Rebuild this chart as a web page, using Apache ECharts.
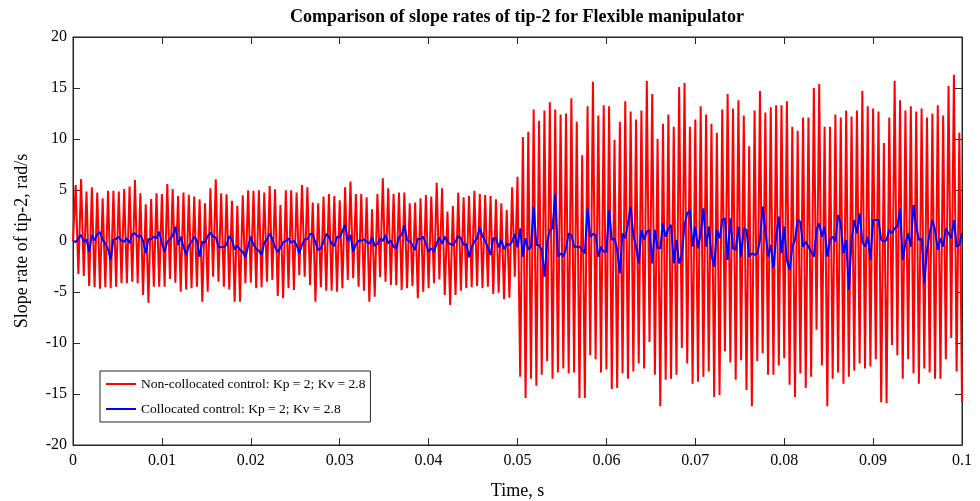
<!DOCTYPE html>
<html>
<head>
<meta charset="utf-8">
<script src="https://cdn.jsdelivr.net/npm/echarts@6/dist/echarts.min.js"></script>
<style>
html,body{margin:0;padding:0;background:#fff;}
#chart{width:980px;height:501px;}
</style>
</head>
<body>
<div id="chart"></div>
<script>
// Time span of the recorded signal (s) and tick values
const tStart = 0;
const tEnd = 0.1;
const xTicks = [0, 0.01, 0.02, 0.03, 0.04, 0.05, 0.06, 0.07, 0.08, 0.09, 0.1];
const yTicks = [-20, -15, -10, -5, 0, 5, 10, 15, 20];

// Non-collocated control, samples 0 .. ~0.05 s (peaks/troughs)
const redFirstHalf = [
  0, 5.49, -3.24, 6.08, -3.43, 4.84, -4.41, 5.26, -4.54, 4.74, -4.67, 4.18, -4.54, 4.93, -4.64, 4.93, -4.48, 4.84, -4.15, 5.1, -4.15, 5.33, -3.99, 5.98, -4.15, 4.67, -5.29, 3.59, -6.04, 4.12, -4.48, 4.67,
  -4.48, 4.61, -4.48, 5.59, -3.73, 5.1, -4.08, 4.41, -4.97, 4.74, -4.74, 4.54, -4.64, 4.35, -4.48, 4.08, -5.95, 3.69, -4.97, 5.16, -3.5, 6.05, -3.99, 4.67, -4.48, 4.57, -4.74, 3.95, -5.95, 3.46, -5.95, 4.48, -4.15,
  4.97, -4.08, 4.93, -4.64, 4.97, -4.54, 4.74, -3.99, 5.39, -3.82, 5.07, -5.39, 3.53, -5.62, 4.97, -4.64, 4.97, -4.8, 4.74, -3.33, 5.49, -3.5, 5.26, -4.31, 3.76, -5.95, 3.69, -4.54, 4.35, -4.87, 4.61, -4.87, 4.41,
  -4.97, 3.98, -4.64, 5.26, -3.82, 5.82, -3.66, 4.61, -4.48, 4.61, -4.87, 4.28, -5.95, 3.1, -5.46, 4.61, -3.56, 6.14, -3.99, 5.16, -4.31, 4.61, -4.31, 4.74, -4.8, 4.74, -4.64, 3.69, -4.41, 3.76, -5.62, 4.18, -4.97,
  4.51, -4.64, 4.35, -4.15, 5.72, -3.76, 5.16, -5.29, 2.88, -6.27, 3.43, -5.29, 4.74, -4.87, 4.28, -4.64, 4.41, -4.54, 4.93, -4.41, 4.61, -4.64, 4.51, -4.48, 4.41, -5.2, 4.08, -5.07, 3.69, -5.72, 3.04, -5.56, 5.26, -3.5
];
// Non-collocated control, samples ~0.05 .. 0.1 s
const redSecondHalf = [
  6.3, -13.3, 10.2, -15.4, 10.7, -13.5, 12.9, -14.2, 11.8, -13.1, 12.8, -11.8, 13.6, -13.5, 12.9, -12.9, 12.4, -12.5, 12.5, -13.0, 14.0, -12.9, 11.7, -15.4, 8.4, -15.4, 13.2, -11.2, 15.6, -11.6, 12.3, -12.9,
  13.3, -12.6, 13.2, -14.5, 9.9, -14.4, 11.7, -13.0, 13.7, -13.5, 12.7, -12.8, 11.9, -12.0, 12.8, -12.5, 15.7, -9.9, 14.4, -13.1, 10.0, -16.2, 11.5, -13.6, 12.4, -13.5, 11.2, -13.1, 15.1, -10.5, 15.5, -12.0, 11.2,
  -14.0, 11.9, -13.8, 13.2, -13.3, 12.4, -12.8, 11.5, -15.3, 10.6, -15.1, 12.9, -10.8, 14.4, -11.9, 13.0, -13.6, 13.8, -11.7, 12.3, -14.6, 9.3, -16.2, 12.8, -11.8, 14.7, -11.0, 12.6, -13.1, 13.1, -13.1, 13.3, -12.2,
  13.3, -11.5, 13.7, -14.1, 11.2, -15.3, 10.8, -13.0, 12.1, -14.4, 12.1, -13.3, 15.0, -8.7, 15.4, -12.2, 11.2, -16.2, 11.2, -13.5, 12.4, -12.9, 12.1, -14.0, 12.8, -13.3, 12.2, -12.7, 12.8, -12.0, 14.7, -12.5, 13.2,
  -12.3, 13.0, -11.6, 12.7, -15.8, 9.6, -15.9, 12.1, -10.2, 15.7, -11.2, 13.8, -13.5, 12.8, -11.6, 13.2, -13.0, 12.7, -14.0, 13.0, -12.5, 12.1, -12.9, 12.5, -13.5, 13.3, -13.5, 12.3, -11.6, 15.2, -9.5, 16.3, -12.8, 10.6, -15.8
];
// Collocated control, samples 0 .. ~0.05 s
const blueFirstHalf = [
  0, -0.1, 0.26, 0.59, -0.07, 0.16, -1.05, 0.59, 0.03, 0.65, 0.88, 0.1, -0.23, -0.82, -1.8, 0.16, 0.2, 0.42, 0.03, -0.07, 0.26, -0.23, 0.69, 0.75, 0.42, 0.59, 0.03, -1.21, 0.2, 0.16, 0.42, 0.26,
  0.92, -0.23, -1.05, -0.07, 0.16, 0.52, 1.41, -0.39, 0.42, -0.56, -1.37, -0.49, -0.07, 0.42, 0.03, -1.54, -0.07, -0.16, 0.49, 0.82, 0.42, 0.36, -0.56, -0.62, -0.56, -0.39, 0.49, 0.1, -0.82, -0.42, -0.88, -1.05, -1.6,
  -0.49, 0.42, -0.39, -0.78, -0.95, -1.37, -0.16, 0.16, 0.75, 0.2, -0.59, -1.08, -0.65, -0.16, 0.03, 0.23, -0.16, 0.03, -0.39, -1.21, -0.36, 0.16, 0.16, 0.69, 0.69, -0.16, -0.88, -0.72, -0.07, 0.69, 0.42, -0.29, -0.49,
  0.42, 0.33, 0.98, 1.57, 0, 0.59, -1.05, -0.36, 0.03, 0.03, 0.16, -0.07, -0.29, 0.36, -0.49, -0.29, 0.26, 0, 0.59, -0.23, 0.03, -0.56, -0.72, 0.36, 0.59, 1.57, 0.1, -0.07, -0.39, -0.88, 0.26, 0.16, 0.42,
  -0.29, -1.05, -0.72, -1.05, -0.23, 0.36, -0.29, 0.42, -0.07, -0.29, -0.39, -0.07, 0.49, 0.26, -0.39, -0.29, -1.6, -0.56, -0.07, 0.26, 1.34, 0.49, 0.03, -0.72, -1.37, 0.26, 0.26, -0.62, 0.1, -0.82, -0.29, -0.39, -0.07, 0.69
];
// Collocated control, samples ~0.05 .. 0.1 s
const blueSecondHalf = [
  -0.62, 1.24, -1.54, 0.26, -0.82, -0.62, 3.4, -0.39, -0.39, -0.88, -3.5, -0.16, 1.08, 1.24, 4.67, -1.54, -1.21, -1.54, -0.72, 0.75, 0.59, -0.56, -0.56, -0.56, -0.88, -1.21, 3.2, 0.42, 0.69, 0.59, -1.54, -0.56,
  -1.05, -1.05, 3.04, 0.1, 0.26, -0.88, -3.17, 0.75, 0.26, 1.73, 3.37, 0.59, -0.56, -2.19, 1.08, 0.1, 0.92, 1.08, -2.19, 1.08, -0.72, -0.72, 1.73, 0.42, 1.24, 1.57, -2.19, 0.1, -2.19, -1.37, 1.57, 2.71, 3.04,
  -0.56, 1.41, -0.72, 0.75, 3.2, -0.56, 1.41, -1.37, -2.52, 1.08, 0.26, 2.06, 2.22, -1.86, 2.22, -0.72, -0.88, 1.41, -1.54, 1.24, 1.08, -1.54, -1.21, -1.37, -1.21, 0.1, 3.37, 1.08, -1.54, -0.39, -2.68, 0.42, 2.39,
  -1.21, 1.41, -1.86, -2.84, -0.56, 0.1, 2.06, 1.89, -0.56, -0.07, -0.56, -1.05, -1.54, 1.08, 1.73, 0.42, 1.41, -1.54, 0.1, 0.42, -0.07, 2.55, 1.73, -1.21, 0.1, -4.8, 0.1, 2.06, 0.75, 2.71, -0.07, -0.56, 0.42,
  -1.86, 2.06, 2.06, 2.06, 0.1, -0.07, 0.1, 1.08, 0.75, 1.24, 1.41, 3.2, -1.86, -0.23, 0.75, -0.56, 3.53, 1.41, 0.1, 0.26, -4.15, -0.88, 0.75, 2.06, 1.08, -0.88, 0.26, -0.56, 1.24, 0.75, 0.26, 2.06, -0.56, -0.39, 0.75
];

const seriesNames = ['Non-collocated control: Kp = 2; Kv = 2.8', 'Collocated control: Kp = 2; Kv = 2.8'];

const redY = redFirstHalf.concat(redSecondHalf);
const blueY = blueFirstHalf.concat(blueSecondHalf);
const dt = (tEnd - tStart) / (redY.length - 1);
const redData = redY.map((v, i) => [tStart + i * dt, v]);
const blueData = blueY.map((v, i) => [tStart + i * dt, v]);

const FONT = '"Liberation Serif", "Times New Roman", serif';
const AX = '#262626';
const fmtX = v => String(parseFloat(Number(v).toFixed(3)));

const chart = echarts.init(document.getElementById('chart'), null, {renderer: 'canvas'});
const baseX = {
  type: 'value', min: xTicks[0], max: xTicks[xTicks.length - 1], interval: 0.01,
  splitLine: {show: false},
  axisLine: {show: true, onZero: false, lineStyle: {color: AX, width: 1}},
  axisTick: {show: true, inside: true, length: 7, lineStyle: {color: AX}}
};
const baseY = {
  type: 'value', min: yTicks[0], max: yTicks[yTicks.length - 1], interval: 5,
  splitLine: {show: false},
  axisLine: {show: true, onZero: false, lineStyle: {color: AX, width: 1}},
  axisTick: {show: true, inside: true, length: 7, lineStyle: {color: AX}}
};
chart.setOption({
  animation: false,
  backgroundColor: '#fff',
  title: {
    text: 'Comparison of slope rates of tip-2 for Flexible manipulator',
    left: 517, top: 8, textAlign: 'center', padding: 0,
    textStyle: {fontFamily: FONT, fontSize: 18, fontWeight: 'bold', color: '#000'}
  },
  grid: {left: 73, right: 18, top: 37, bottom: 56, containLabel: false, outerBoundsMode: 'none',
         show: true, borderColor: AX, borderWidth: 1, backgroundColor: '#fff'},
  legend: {
    data: seriesNames,
    orient: 'vertical', left: 100, top: 371,
    padding: [6, 5, 6, 5], itemGap: 11, itemWidth: 30, itemHeight: 14,
    backgroundColor: '#fff', borderColor: AX, borderWidth: 1, borderRadius: 0,
    itemStyle: {opacity: 0},
    textStyle: {fontFamily: FONT, fontSize: 13.5, color: '#000', padding: [0, 0, 0, 0]},
    z: 10
  },
  xAxis: [
    Object.assign({}, baseX, {
      position: 'bottom',
      name: 'Time, s', nameLocation: 'middle', nameGap: 37,
      nameTextStyle: {fontFamily: FONT, fontSize: 18, color: '#000'},
      axisLabel: {show: true, margin: 8, fontFamily: FONT, fontSize: 16, color: '#000', formatter: fmtX}
    }),
    Object.assign({}, baseX, {position: 'top', axisLabel: {show: false}})
  ],
  yAxis: [
    Object.assign({}, baseY, {
      position: 'left',
      name: 'Slope rate of tip-2, rad/s', nameLocation: 'middle', nameGap: 42,
      nameTextStyle: {fontFamily: FONT, fontSize: 18, color: '#000'},
      axisLabel: {show: true, margin: 6, fontFamily: FONT, fontSize: 16, color: '#000'}
    }),
    Object.assign({}, baseY, {position: 'right', axisLabel: {show: false}})
  ],
  series: [
    {
      name: seriesNames[0], type: 'line', data: redData, xAxisIndex: 0, yAxisIndex: 0,
      symbol: 'none', showSymbol: false, sampling: null, color: '#ff0000',
      lineStyle: {color: '#ff0000', width: 2}, emphasis: {disabled: true}, z: 2
    },
    {
      name: seriesNames[1], type: 'line', data: blueData, xAxisIndex: 0, yAxisIndex: 0,
      symbol: 'none', showSymbol: false, sampling: null, color: '#0000ff',
      lineStyle: {color: '#0000ff', width: 2}, emphasis: {disabled: true}, z: 3
    }
  ]
});
</script>
</body>
</html>
